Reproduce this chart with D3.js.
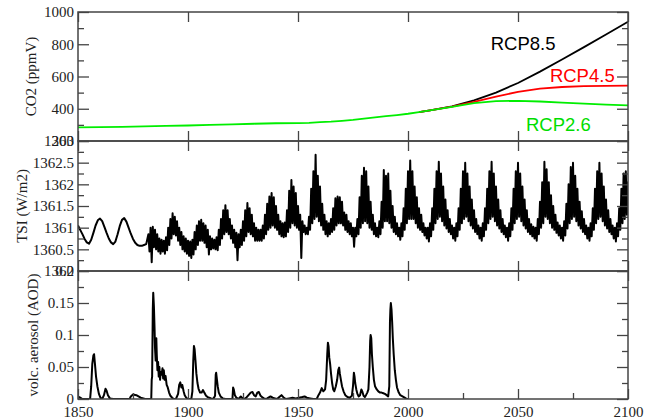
<!DOCTYPE html>
<html>
<head>
<meta charset="utf-8">
<script src="https://cdn.jsdelivr.net/npm/d3@7"></script>
<style>
  body { margin: 0; background: #fff; }
  svg { display: block; }
</style>
</head>
<body>
<svg id="chart" width="660" height="420"></svg>
<script>
// ---- CO2 concentration (ppmV): shared history, then three RCP pathways ----
const co2HistYears = [1850, 1860, 1870, 1880, 1890, 1900, 1910, 1920, 1930, 1940, 1950, 1955, 1960, 1965, 1970, 1975, 1980, 1985, 1990, 1995, 2000, 2005];
const co2Hist      = [285, 286, 288, 291, 294, 296, 300, 303, 307, 310, 311, 313, 317, 320, 325, 331, 339, 346, 354, 361, 369, 379];
const rcpYears = [2005, 2010, 2020, 2030, 2040, 2050, 2060, 2070, 2080, 2090, 2100];
const rcp85    = [379, 390, 415, 452, 500, 560, 630, 705, 782, 860, 940];
const rcp45    = [379, 390, 413, 442, 475, 505, 525, 535, 540, 542, 543];
const rcp26    = [379, 390, 412, 435, 447, 449, 445, 438, 432, 426, 421];
const rcpNames = ["RCP8.5", "RCP4.5", "RCP2.6"];

// ---- Total solar irradiance (W/m2) ----
// smooth annual reconstruction 1850-1881
const tsiSmoothStart = 1850;
const tsiSmooth = [
  1361.05,1360.95,1360.85,1360.74,1360.66,1360.63,1360.72,1360.88,1361.05,1361.17,
  1361.21,1361.15,1361.02,1360.88,1360.75,1360.66,1360.62,1360.68,1360.85,1361.04,
  1361.18,1361.22,1361.14,1361.00,1360.86,1360.74,1360.65,1360.60,1360.58,1360.58,
  1360.60,1360.62
];
// yearly upper / lower envelope of the monthly series, 1882-2100
const tsiBandStart = 1882;
const tsiHigh = [
  1360.85,1361.00,1361.02,1360.95,1360.85,1360.75,1360.72,1360.70,
  1360.78,1361.00,1361.20,1361.33,1361.25,1361.15,1361.00,1360.90,1360.80,1360.75,
  1360.70,1360.68,1360.72,1360.90,1361.05,1361.15,1361.18,1361.10,1361.05,1360.95,
  1360.80,1360.75,1360.72,1360.78,1360.95,1361.20,1361.40,1361.52,1361.40,1361.20,
  1361.05,1360.95,1360.88,1360.85,1360.95,1361.15,1361.40,1361.57,1361.45,1361.30,
  1361.10,1361.00,1360.95,1360.95,1361.05,1361.30,1361.55,1361.72,1361.80,1361.70,
  1361.50,1361.30,1361.15,1361.10,1361.12,1361.40,1361.85,1362.10,1361.95,1361.80,
  1361.50,1361.30,1361.15,1361.05,1361.00,1361.25,1361.90,1362.30,1362.68,1362.20,
  1361.95,1361.55,1361.30,1361.15,1361.10,1361.20,1361.45,1361.68,1361.72,1361.70,
  1361.60,1361.35,1361.30,1361.15,1361.10,1361.00,1361.00,1361.20,1361.70,1362.20,
  1362.38,1362.30,1361.95,1361.60,1361.30,1361.10,1361.00,1361.15,1361.60,1362.33,
  1362.20,1362.25,1361.85,1361.50,1361.25,1361.10,1361.00,1361.10,1361.45,1361.90,
  1362.30,1362.55,1362.30,1361.95,1361.70,1361.45,1361.30,1361.10,1361.00,1361.00,
  1361.10,1361.45,1361.90,1362.30,1362.52,1362.25,1361.95,1361.65,1361.40,1361.20,
  1361.05,1361.00,1361.10,1361.45,1361.90,1362.30,1362.50,1362.25,1361.95,1361.65,
  1361.40,1361.20,1361.05,1361.00,1361.10,1361.45,1361.90,1362.30,1362.52,1362.25,
  1361.95,1361.65,1361.40,1361.20,1361.05,1361.00,1361.10,1361.45,1361.90,1362.30,
  1362.50,1362.25,1361.95,1361.65,1361.40,1361.20,1361.08,1361.02,1361.00,1361.20,
  1361.60,1362.05,1362.52,1362.35,1362.05,1361.75,1361.50,1361.30,1361.12,1361.05,
  1361.00,1361.15,1361.55,1362.00,1362.40,1362.50,1362.20,1361.90,1361.60,1361.38,
  1361.20,1361.05,1361.00,1361.10,1361.45,1361.90,1362.30,1362.50,1362.25,1361.95,
  1361.65,1361.40,1361.20,1361.05,1361.00,1361.10,1361.45,1361.90,1362.25,1362.30,
  1362.05
];
const tsiLow = [
  1360.45,1360.20,1360.55,1360.50,1360.45,1360.40,1360.45,1360.40,
  1360.48,1360.60,1360.75,1360.85,1360.82,1360.70,1360.60,1360.50,1360.45,1360.40,
  1360.35,1360.30,1360.38,1360.50,1360.60,1360.70,1360.70,1360.65,1360.55,1360.38,
  1360.50,1360.52,1360.50,1360.48,1360.60,1360.75,1360.85,1360.90,1360.85,1360.75,
  1360.65,1360.55,1360.25,1360.55,1360.60,1360.70,1360.80,1360.90,1360.85,1360.80,
  1360.70,1360.70,1360.70,1360.70,1360.75,1360.85,1360.95,1361.00,1361.05,1361.00,
  1360.95,1360.85,1360.80,1360.78,1360.80,1360.90,1361.00,1361.10,1361.05,1361.00,
  1360.95,1360.30,1360.90,1360.85,1360.85,1360.95,1361.10,1361.20,1361.25,1361.15,
  1361.05,1360.95,1360.85,1360.80,1360.85,1360.90,1360.95,1361.05,1361.10,1361.10,
  1361.05,1360.95,1360.90,1360.85,1360.80,1360.56,1360.80,1360.85,1361.00,1361.10,
  1361.15,1361.10,1361.00,1360.95,1360.85,1360.80,1360.78,1360.85,1361.00,1361.15,
  1361.15,1361.10,1361.00,1360.90,1360.85,1360.80,1360.72,1360.80,1360.95,1361.10,
  1361.20,1361.20,1361.20,1361.10,1361.00,1360.95,1360.90,1360.82,1360.75,1360.68,
  1360.80,1360.95,1361.10,1361.20,1361.25,1361.15,1361.05,1360.98,1360.90,1360.85,
  1360.75,1360.70,1360.80,1360.95,1361.10,1361.20,1361.25,1361.15,1361.05,1360.98,
  1360.90,1360.85,1360.75,1360.70,1360.80,1360.95,1361.10,1361.20,1361.25,1361.15,
  1361.05,1360.98,1360.90,1360.85,1360.78,1360.70,1360.80,1360.95,1361.10,1361.20,
  1361.25,1361.15,1361.05,1360.98,1360.90,1360.85,1360.80,1360.75,1360.70,1360.85,
  1361.00,1361.10,1361.25,1361.20,1361.10,1361.00,1360.95,1360.88,1360.82,1360.75,
  1360.70,1360.82,1360.98,1361.10,1361.20,1361.25,1361.15,1361.05,1360.98,1360.90,
  1360.85,1360.75,1360.70,1360.80,1360.95,1361.10,1361.20,1361.25,1361.15,1361.05,
  1360.98,1360.90,1360.85,1360.75,1360.68,1360.80,1360.95,1361.10,1361.20,1361.30,
  1361.50
];

// ---- Volcanic aerosol optical depth ----
const aodYears = [
  1850.0,1850.5,1851.0,1852.0,1855.5,1856.0,1856.5,1857.0,1857.3,1857.7,1858.2,1858.8,1859.5,1860.2,1861.0,
  1861.8,1862.5,1863.0,1863.6,1864.5,1866.0,1873.5,1874.0,1875.0,1876.5,1877.5,1878.5,1880.5,
  1883.3,1883.5,1883.7,1884.0,1884.2,1884.5,1884.8,1885.0,1885.3,1885.6,1885.8,1886.1,1886.4,1886.7,
  1887.0,1887.3,1887.6,1888.0,1888.4,1888.7,1889.0,1889.4,1889.8,1890.3,1890.8,1891.4,1892.0,1892.8,
  1893.5,1894.5,1895.5,1896.0,1896.5,1897.0,1897.4,1898.0,1898.5,1899.2,1900.0,1901.5,
  1902.0,1902.4,1902.7,1903.0,1903.4,1903.8,1904.3,1904.8,1905.5,1906.2,1906.8,1907.4,1908.2,1909.0,
  1910.5,1911.5,1912.3,1912.6,1912.8,1913.1,1913.5,1914.0,1914.8,1915.8,1917.0,
  1920.2,1920.5,1920.8,1921.3,1922.0,1923.0,1924.0,1924.5,1925.5,1926.5,1927.5,1928.5,1929.3,1930.0,
  1930.8,1931.5,1932.2,1933.0,1934.0,1935.0,1936.0,1937.5,1938.5,1939.5,1940.5,1941.5,1942.5,1943.5,
  1944.5,1946.0,1947.5,1949.0,1950.5,1952.0,1953.0,1954.0,1955.5,1957.0,1958.5,
  1959.3,1960.0,1960.8,1961.5,1962.3,1962.8,1963.3,1963.6,1963.9,1964.2,1964.6,1965.0,1965.5,1966.0,
  1966.5,1967.2,1967.8,1968.3,1968.7,1969.0,1969.5,1970.0,1970.7,1971.5,1972.5,1973.5,1974.5,
  1975.0,1975.4,1975.7,1976.0,1976.5,1977.0,1977.6,1978.2,1978.8,1979.2,1979.8,1980.4,1980.9,
  1981.5,1982.0,1982.5,1982.8,1983.0,1983.3,1983.6,1984.0,1984.5,1985.0,1985.8,1986.5,1987.3,
  1988.0,1988.8,1989.5,1990.3,1991.0,1991.5,1991.8,1992.0,1992.2,1992.5,1992.8,1993.1,1993.5,
  1994.0,1994.5,1995.0,1995.8,1996.5,1997.5,1998.5,1999.5,2000.0
];
const aodValues = [
  0.000,0.003,0.002,0.000,0.000,0.020,0.055,0.068,0.070,0.055,0.035,0.020,0.008,0.002,0.000,
  0.006,0.016,0.013,0.006,0.001,0.000,0.000,0.004,0.007,0.006,0.004,0.002,0.000,
  0.000,0.030,0.035,0.140,0.166,0.145,0.110,0.080,0.060,0.095,0.070,0.045,0.058,0.035,
  0.050,0.030,0.042,0.038,0.048,0.032,0.045,0.030,0.036,0.022,0.018,0.010,0.005,0.002,
  0.000,0.000,0.008,0.022,0.026,0.018,0.022,0.012,0.006,0.002,0.000,0.000,
  0.012,0.060,0.083,0.078,0.060,0.040,0.025,0.016,0.010,0.010,0.014,0.010,0.005,0.003,
  0.001,0.000,0.005,0.038,0.041,0.032,0.020,0.010,0.004,0.001,0.000,
  0.000,0.018,0.015,0.006,0.002,0.000,0.004,0.002,0.000,0.002,0.006,0.010,0.011,0.006,
  0.004,0.010,0.011,0.005,0.002,0.000,0.001,0.004,0.002,0.001,0.000,0.003,0.006,0.002,
  0.000,0.001,0.002,0.001,0.002,0.003,0.004,0.002,0.001,0.000,0.000,
  0.006,0.010,0.017,0.012,0.015,0.030,0.070,0.088,0.082,0.065,0.055,0.040,0.025,0.015,
  0.012,0.020,0.030,0.045,0.049,0.040,0.030,0.020,0.012,0.006,0.003,0.002,0.005,
  0.020,0.041,0.035,0.025,0.015,0.008,0.004,0.006,0.015,0.012,0.005,0.003,0.006,
  0.010,0.015,0.050,0.090,0.100,0.095,0.070,0.050,0.030,0.020,0.015,0.012,0.010,
  0.010,0.009,0.008,0.006,0.004,0.020,0.120,0.140,0.150,0.140,0.120,0.095,0.070,
  0.045,0.030,0.018,0.010,0.006,0.004,0.002,0.000,0.000
];

// ---- tick values and axis titles ----
const yearMajor = [1850, 1900, 1950, 2000, 2050, 2100];
const yearMinor = [1875, 1925, 1975, 2025, 2075];
const co2Major = [200, 400, 600, 800, 1000];
const co2Minor = [300, 500, 700, 900];
const tsiMajor = [1360, 1360.5, 1361, 1361.5, 1362, 1362.5, 1363];
const tsiMinor = [1360.25, 1360.75, 1361.25, 1361.75, 1362.25, 1362.75];
const aodMajor = [0, 0.05, 0.1, 0.15, 0.2];
const aodMinor = [0.025, 0.075, 0.125, 0.175];
const titles = ["CO2 (ppmV)", "TSI (W/m2)", "volc. aerosol (AOD)"];

// ---- layout ----
const svg = d3.select("#chart");
const X0 = 78, X1 = 628;
const x = d3.scaleLinear().domain([1850, 2100]).range([X0, X1]);
const SERIF = "'Liberation Serif', 'Times New Roman', serif";
const FRAME = "#444";

const panels = [
  { top: 12,  bottom: 141, domain: [200, 1000],   major: co2Major, minor: co2Minor, title: titles[0], tx: 31 },
  { top: 141, bottom: 271, domain: [1360, 1363],  major: tsiMajor, minor: tsiMinor, title: titles[1], tx: 22 },
  { top: 271, bottom: 399, domain: [0, 0.2],      major: aodMajor, minor: aodMinor, title: titles[2], tx: 33 }
];
panels.forEach(p => { p.y = d3.scaleLinear().domain(p.domain).range([p.bottom, p.top]); });

const defs = svg.append("defs");
panels.forEach((p, i) => {
  defs.append("clipPath").attr("id", "clip" + i)
    .append("rect").attr("x", X0).attr("y", p.top).attr("width", X1 - X0).attr("height", p.bottom - p.top);
});

// ---- panel 1: CO2 ----
const p0 = panels[0];
const g0 = svg.append("g").attr("clip-path", "url(#clip0)");
const co2Line = d3.line().x(d => x(d[0])).y(d => p0.y(d[1]));
const histPts = co2HistYears.map((yr, i) => [yr, co2Hist[i]]);
const scen = [
  { vals: rcp85, color: "#000000" },
  { vals: rcp45, color: "#ff0000" },
  { vals: rcp26, color: "#00ee00" }
];
scen.forEach(s => {
  const pts = rcpYears.map((yr, i) => [yr, s.vals[i]]);
  g0.append("path").attr("d", co2Line(pts))
    .attr("fill", "none").attr("stroke", s.color).attr("stroke-width", 1.8);
});
g0.append("path").attr("d", co2Line(histPts))
  .attr("fill", "none").attr("stroke", "#00ee00").attr("stroke-width", 1.8);

// scenario names, anchored in data space of the CO2 panel
const labelFont = "'Liberation Sans', Arial, sans-serif";
const rcpLabelPos = [
  { year: 2037.6, value: 764, color: "#000000" },
  { year: 2064.5, value: 566, color: "#ff0000" },
  { year: 2053.6, value: 262, color: "#00dd00" }
];
rcpNames.forEach((name, i) => {
  const lp = rcpLabelPos[i];
  svg.append("text").attr("x", x(lp.year)).attr("y", p0.y(lp.value))
    .attr("font-family", labelFont).attr("font-size", 18.5)
    .attr("fill", lp.color).text(name);
});

// ---- panel 2: TSI ----
const p1 = panels[1];
const tsiPts = tsiSmooth.map((v, i) => [tsiSmoothStart + i, v]);
tsiHigh.forEach((hi, i) => {
  const yr = tsiBandStart + i;
  tsiPts.push([yr, hi]);
  tsiPts.push([yr + 0.5, tsiLow[i]]);
});
svg.append("g").attr("clip-path", "url(#clip1)")
  .append("path")
  .attr("d", d3.line().x(d => x(d[0])).y(d => p1.y(d[1]))(tsiPts))
  .attr("fill", "none").attr("stroke", "#000").attr("stroke-width", 2)
  .attr("stroke-linejoin", "round");

// ---- panel 3: volcanic aerosol ----
const p2 = panels[2];
svg.append("g").attr("clip-path", "url(#clip2)")
  .append("path")
  .attr("d", d3.line().x(d => x(d[0])).y(d => p2.y(d[1]))(aodYears.map((yr, i) => [yr, aodValues[i]])))
  .attr("fill", "none").attr("stroke", "#000").attr("stroke-width", 2)
  .attr("stroke-linejoin", "round");

// ---- frames, ticks and labels ----
function styleAxis(sel) {
  sel.select(".domain").remove();
  sel.attr("font-family", SERIF).attr("font-size", 15).attr("color", FRAME);
  sel.selectAll(".tick line").attr("stroke-width", 1.3);
  sel.selectAll(".tick text").attr("fill", "#222");
}
const fmt = d => String(d);

panels.forEach((p, i) => {
  // left: labelled majors + minor ticks, all pointing inward
  svg.append("g").attr("transform", `translate(${X0},0)`)
    .call(d3.axisLeft(p.y).tickValues(p.major).tickSizeInner(-11).tickSizeOuter(0).tickPadding(4).tickFormat(fmt))
    .call(styleAxis);
  svg.append("g").attr("transform", `translate(${X0},0)`)
    .call(d3.axisLeft(p.y).tickValues(p.minor).tickSizeInner(-6).tickSizeOuter(0).tickFormat(""))
    .call(styleAxis);
  // right: mirrored ticks
  svg.append("g").attr("transform", `translate(${X1},0)`)
    .call(d3.axisRight(p.y).tickValues(p.major).tickSizeInner(-11).tickSizeOuter(0).tickFormat(""))
    .call(styleAxis);
  svg.append("g").attr("transform", `translate(${X1},0)`)
    .call(d3.axisRight(p.y).tickValues(p.minor).tickSizeInner(-6).tickSizeOuter(0).tickFormat(""))
    .call(styleAxis);
  // top and bottom year ticks
  svg.append("g").attr("transform", `translate(0,${p.top})`)
    .call(d3.axisTop(x).tickValues(yearMajor).tickSizeInner(-10).tickSizeOuter(0).tickFormat(""))
    .call(styleAxis);
  const last = i === panels.length - 1;
  svg.append("g").attr("transform", `translate(0,${p.bottom})`)
    .call(d3.axisBottom(x).tickValues(yearMajor).tickSizeInner(-10).tickSizeOuter(0)
      .tickPadding(last ? 7 : 0).tickFormat(last ? fmt : ""))
    .call(styleAxis);
  if (last) {
    svg.append("g").attr("transform", `translate(0,${p.bottom})`)
      .call(d3.axisBottom(x).tickValues(yearMinor).tickSizeInner(-6).tickSizeOuter(0).tickFormat(""))
      .call(styleAxis);
  }
  // frame
  svg.append("rect").attr("x", X0).attr("y", p.top)
    .attr("width", X1 - X0).attr("height", p.bottom - p.top)
    .attr("fill", "none").attr("stroke", FRAME).attr("stroke-width", 1.5);
  // axis title
  const cy = (p.top + p.bottom) / 2;
  svg.append("text")
    .attr("transform", `translate(${p.tx},${cy}) rotate(-90)`)
    .attr("text-anchor", "middle").attr("dominant-baseline", "central")
    .attr("font-family", SERIF).attr("font-size", 15).attr("fill", "#222")
    .text(p.title);
});
</script>
</body>
</html>
